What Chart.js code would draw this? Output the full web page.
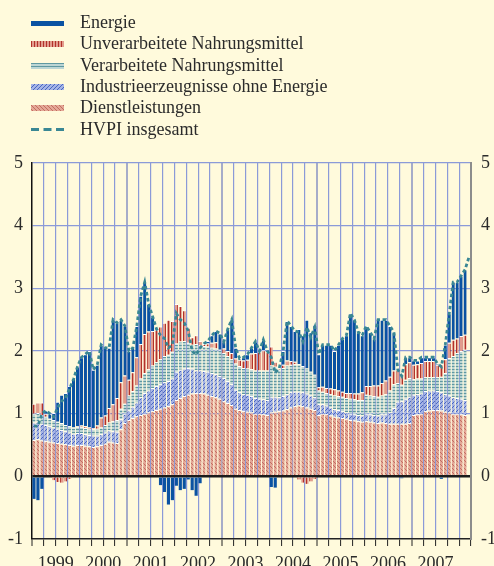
<!DOCTYPE html>
<html lang="de">
<head>
<meta charset="UTF-8">
<title>Beiträge zur HVPI-Inflation</title>
<script src="https://cdn.jsdelivr.net/npm/chart.js"></script>
<style>
  body { margin: 0; background: #fffadc; }
  #wrap { position: relative; width: 494px; height: 566px; overflow: hidden; background: #fffadc; }
  #legend { position: absolute; left: 0; top: 0; font-family: 'Liberation Serif', 'DejaVu Serif', serif; font-size: 18px; color: #2b2b2b; }
  .item { position: absolute; left: 80px; white-space: nowrap; line-height: 20px; height: 20px; }
  .sw { position: absolute; left: -49px; }
</style>
</head>
<body>
<div id="wrap">
  <canvas id="chart" width="494" height="566"></canvas>
  <div id="legend"></div>
</div>
<script>
// Jahre der x-Achse (Monatsdaten Jan. 1999 bis Feb./Mrz. 2008)
const years = ['1999', '2000', '2001', '2002', '2003', '2004', '2005', '2006', '2007'];

// Beiträge in Prozentpunkten
const dienstleistungen = [
  .58,.59,.57,.56,.55,.54,.53,.52,.51,.50,.49,.50,
  .50,.49,.48,.47,.48,.50,.52,.55,.54,.53,.75,.85,
  .90,.93,.96,.98,1.0,1.02,1.04,1.06,1.08,1.10,1.12,1.15,
  1.22,1.25,1.28,1.30,1.32,1.33,1.33,1.32,1.30,1.28,1.26,1.24,
  1.20,1.17,1.14,1.08,1.06,1.04,1.03,1.02,1.00,1.00,.99,.98,
  1.02,1.03,1.04,1.05,1.07,1.10,1.12,1.13,1.12,1.10,1.08,1.06,
  .98,1.0,.99,.97,.95,.94,.93,.92,.90,.89,.88,.87,
  .88,.87,.86,.85,.86,.85,.84,.84,.84,.84,.84,.85,
  .98,.99,1.0,1.04,1.05,1.06,1.06,1.05,1.03,1.02,1.0,1.0,
  .99,.98
];
const industrie = [
  .28,.28,.27,.26,.25,.24,.23,.22,.21,.20,.19,.19,
  .19,.18,.18,.18,.17,.17,.18,.18,.18,.18,.16,.15,
  .15,.18,.22,.28,.33,.35,.37,.38,.39,.40,.40,.41,
  .45,.45,.44,.43,.40,.36,.36,.36,.37,.37,.37,.36,
  .37,.35,.33,.30,.28,.27,.27,.26,.25,.24,.24,.24,
  .25,.24,.22,.23,.24,.24,.23,.22,.22,.22,.21,.20,
  .17,.15,.14,.13,.12,.12,.11,.10,.10,.10,.10,.10,
  .12,.12,.12,.12,.13,.14,.18,.25,.35,.36,.40,.42,
  .32,.32,.32,.32,.32,.31,.30,.29,.28,.27,.26,.25,
  .25,.24
];
const verarbeitet = [
  .14,.14,.14,.13,.12,.12,.11,.11,.10,.10,.10,.10,
  .10,.10,.10,.10,.11,.11,.12,.13,.16,.19,.17,.16,
  .24,.25,.27,.30,.32,.34,.36,.38,.40,.42,.42,.43,
  .45,.45,.44,.40,.38,.42,.40,.40,.40,.40,.41,.42,
  .40,.40,.40,.42,.42,.42,.42,.43,.44,.45,.46,.47,
  .50,.48,.44,.45,.46,.44,.44,.44,.42,.40,.38,.36,
  .22,.20,.20,.21,.22,.22,.23,.23,.24,.24,.24,.25,
  .30,.30,.30,.30,.30,.32,.35,.38,.30,.26,.30,.30,
  .25,.25,.24,.22,.21,.21,.22,.25,.34,.60,.66,.72,
  .76,.80
];
const unverarbeitet = [
  .16,.17,.20,.05,.00,-.06,-.09,-.10,-.08,-.04,-.02,.01,
  .02,.03,.02,.02,.05,.16,.15,.23,.27,.35,.42,.45,
  .25,.30,.45,.55,.62,.60,.55,.52,.52,.53,.56,.49,
  .63,.57,.49,.24,.12,.14,.07,.03,.05,.08,.10,-.02,
  .07,.08,.10,.08,.10,.12,.14,.25,.28,.30,.32,.30,
  .30,.08,.02,.05,.08,.06,.04,-.05,-.10,-.12,-.08,-.04,
  .05,.08,.08,.09,.10,.09,.08,.08,.09,.09,.10,.12,
  .14,.15,.17,.18,.20,.22,.22,.22,.21,.17,.25,.25,
  .23,.23,.25,.26,.26,.26,.20,.20,.22,.24,.26,.23,
  .24,.24
];
const energie = [
  -.36,-.38,-.20,.05,.08,.11,.32,.45,.51,.64,.79,.95,
  1.09,1.15,1.22,.93,.97,1.16,1.08,.96,1.35,1.20,1.00,.79,
  .46,.39,.50,.77,.83,.44,.23,.01,-.14,-.25,-.45,-.38,
  -.15,-.22,-.20,-.05,-.22,-.31,-.11,.01,.04,.12,.18,.26,
  .11,.35,.53,.17,.02,.05,.09,.09,.18,.01,.17,.01,
  -.17,-.18,.00,.22,.63,.56,.49,.56,.49,.78,.63,.80,
  .53,.67,.69,.70,.61,.73,.85,.92,1.27,1.18,.98,.91,
  .96,.86,.75,1.05,1.01,.97,.81,.61,.00,-.03,.11,.08,
  .07,.06,.09,.06,.06,.06,.02,-.04,.23,.47,.92,.90,
  .96,1.04
];
const hvpi = [
  .80,.80,1.0,1.05,1.0,.95,1.1,1.2,1.25,1.4,1.55,1.75,
  1.9,1.95,2.0,1.7,1.78,2.1,2.05,2.05,2.5,2.45,2.5,2.4,
  2.0,2.05,2.4,2.88,3.1,2.75,2.55,2.35,2.25,2.2,2.05,2.1,
  2.6,2.5,2.45,2.32,2.0,1.94,2.05,2.12,2.16,2.25,2.32,2.28,
  2.15,2.35,2.5,2.05,1.88,1.9,1.95,2.05,2.15,2.0,2.18,2.0,
  1.9,1.65,1.72,2.0,2.48,2.4,2.32,2.3,2.15,2.38,2.22,2.38,
  1.95,2.1,2.1,2.1,2.0,2.1,2.2,2.25,2.6,2.5,2.3,2.25,
  2.4,2.3,2.2,2.5,2.5,2.5,2.4,2.3,1.7,1.6,1.9,1.9,
  1.85,1.85,1.9,1.9,1.9,1.9,1.8,1.75,2.1,2.6,3.1,3.1,
  3.2,3.3,3.5
];

const canvas = document.getElementById('chart');
const ctx = canvas.getContext('2d');

// kleine Kacheln für die Schraffuren
function makePattern(bg, fg, kind) {
  const n = (kind === 'v' || kind === 'h') ? 3 : 4;
  const t = document.createElement('canvas');
  t.width = n; t.height = n;
  const c = t.getContext('2d');
  c.fillStyle = bg;
  c.fillRect(0, 0, n, n);
  c.fillStyle = fg;
  if (kind === 'v') c.fillRect(0, 0, 1, n);
  else if (kind === 'h') c.fillRect(0, 0, n, 1);
  else if (kind === 'up') { for (let k = 0; k < n; k++) c.fillRect(k, n - 1 - k, 1, 1); }
  else { for (let k = 0; k < n; k++) c.fillRect(k, k, 1, 1); }
  return ctx.createPattern(t, 'repeat');
}

const fills = {
  energie: '#0a52a2',
  unverarbeitet: makePattern('#e29c8d', '#b2322a', 'v'),
  verarbeitet: makePattern('#bcd5d4', '#5f98a1', 'h'),
  industrie: makePattern('#a5b4e6', '#4a67c0', 'up'),
  dienst: makePattern('#e4a797', '#c26e60', 'down')
};
const lineColor = '#3a8794';

// Legende
const legendItems = [
  { name: 'Energie', fill: fills.energie, h: 5 },
  { name: 'Unverarbeitete Nahrungsmittel', fill: fills.unverarbeitet, h: 6 },
  { name: 'Verarbeitete Nahrungsmittel', fill: fills.verarbeitet, h: 6 },
  { name: 'Industrieerzeugnisse ohne Energie', fill: fills.industrie, h: 6 },
  { name: 'Dienstleistungen', fill: fills.dienst, h: 6 },
  { name: 'HVPI insgesamt', fill: null, h: 3 }
];
const legend = document.getElementById('legend');
legendItems.forEach((it, k) => {
  const row = document.createElement('div');
  row.className = 'item';
  row.style.top = (12 + k * 21.3) + 'px';
  const sw = document.createElement('canvas');
  sw.className = 'sw';
  sw.width = 33; sw.height = it.h;
  sw.style.top = (11 - it.h / 2) + 'px';
  const c = sw.getContext('2d');
  if (it.fill) {
    c.fillStyle = it.fill;
    c.fillRect(0, 0, 33, it.h);
  } else {
    c.fillStyle = lineColor;
    [0, 12.5, 25].forEach(x0 => c.fillRect(x0, 0, 8, it.h));
  }
  row.appendChild(sw);
  row.appendChild(document.createTextNode(it.name));
  legend.appendChild(row);
});

const serif = "'Liberation Serif', 'DejaVu Serif', serif";
const xPos = hvpi.map((_, i) => i + 0.5);
const bar = { type: 'bar', barPercentage: 0.8, categoryPercentage: 1, borderColor: '#ffffff', borderWidth: { top: 1 }, order: 2 };
const tickVal = c => (c.tick ? c.tick.value : null);

new Chart(ctx, {
  type: 'bar',
  data: {
    labels: xPos,
    datasets: [
      Object.assign({ label: 'Dienstleistungen', data: dienstleistungen, backgroundColor: fills.dienst }, bar),
      Object.assign({ label: 'Industrieerzeugnisse ohne Energie', data: industrie, backgroundColor: fills.industrie }, bar),
      Object.assign({ label: 'Verarbeitete Nahrungsmittel', data: verarbeitet, backgroundColor: fills.verarbeitet }, bar),
      Object.assign({ label: 'Unverarbeitete Nahrungsmittel', data: unverarbeitet, backgroundColor: fills.unverarbeitet }, bar),
      Object.assign({ label: 'Energie', data: energie, backgroundColor: fills.energie }, bar),
      {
        type: 'line', label: 'HVPI insgesamt', data: hvpi, stack: 'hvpi', order: 0,
        borderColor: lineColor, borderWidth: 2.8, borderDash: [3.5, 2.6],
        pointRadius: 0, fill: false, tension: 0
      }
    ]
  },
  options: {
    responsive: false,
    animation: false,
    layout: { padding: { top: 163, left: 0, right: 0, bottom: 0 } },
    plugins: { legend: { display: false }, tooltip: { enabled: false } },
    scales: {
      x: {
        type: 'linear', min: 0, max: 111, stacked: true, offset: false,
        border: { color: '#222', width: 1.5 },
        grid: {
          offset: false,
          color: c => {
            const v = tickVal(c);
            if (v === null || v === 0 || v === 111) return 'rgba(0,0,0,0)';
            return v % 24 === 0 ? '#a6acc9' : '#8b9ad8';
          },
          lineWidth: c => (tickVal(c) !== null && tickVal(c) % 24 === 0 ? 2 : 1.2),
          tickColor: '#222', tickLength: 7, tickWidth: 1
        },
        ticks: {
          stepSize: 3, autoSkip: false, maxRotation: 0, padding: 7,
          font: { family: serif, size: 18 }, color: '#2b2b2b',
          callback: v => (v % 12 === 6 ? years[(v - 6) / 12] : '')
        },
        afterFit: s => { s.height = 27; }
      },
      y: {
        position: 'left', min: -1, max: 5, stacked: true,
        border: { color: '#111', width: 1.5 },
        grid: {
          color: c => {
            const v = tickVal(c);
            if (v === 0) return '#1b1b1b';
            return (v === null || v === -1) ? 'rgba(0,0,0,0)' : '#8b9ad8';
          },
          lineWidth: c => (tickVal(c) === 0 ? 2.5 : 1.3),
          drawTicks: false
        },
        ticks: { stepSize: 1, padding: 9, font: { family: serif, size: 18 }, color: '#2b2b2b' },
        afterFit: s => { s.width = 32; }
      },
      y2: {
        position: 'right', min: -1, max: 5,
        border: { color: '#8c8c8c', width: 2 },
        grid: { drawOnChartArea: false, drawTicks: false },
        ticks: { stepSize: 1, padding: 10, font: { family: serif, size: 18 }, color: '#2b2b2b' },
        afterFit: s => { s.width = 23; }
      }
    }
  }
});
</script>
</body>
</html>
